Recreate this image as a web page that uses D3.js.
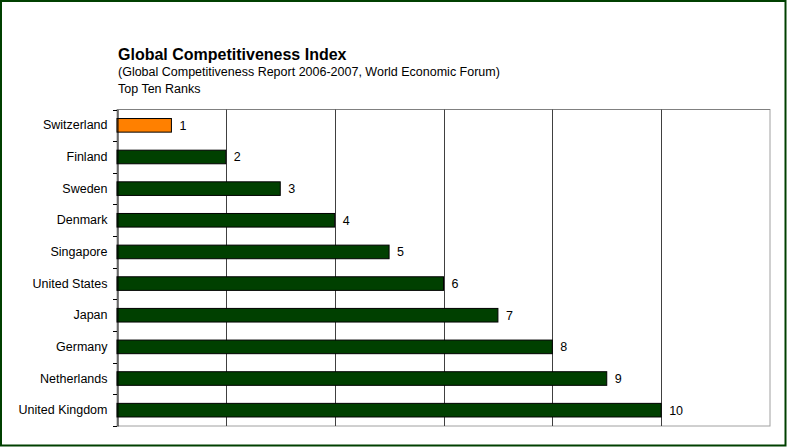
<!DOCTYPE html>
<html><head><meta charset="utf-8">
<script src="https://cdn.jsdelivr.net/npm/d3@7"></script>
<style>body{margin:0;background:#fff}svg{display:block;font-family:"Liberation Sans",Arial,sans-serif}</style>
</head><body>
<svg id="c" width="787" height="447"></svg>
<script>
const countries = ["Switzerland","Finland","Sweden","Denmark","Singapore","United States","Japan","Germany","Netherlands","United Kingdom"];
const ranks = [1,2,3,4,5,6,7,8,9,10];
const xTicks = [0,2,4,6,8,10,12];
const titleText = "Global Competitiveness Index";
const subtitleText = "(Global Competitiveness Report 2006-2007, World Economic Forum)";
const subtitle2Text = "Top Ten Ranks";

const svg = d3.select("#c");
const W = 787, H = 447;
const m = {left:117, right:770, top:109.5, bottom:426};
const fs = 12.5;

svg.append("rect").attr("x",1).attr("y",1).attr("width",W-2.5).attr("height",H-2.5)
  .attr("fill","#fff").attr("stroke","#004000").attr("stroke-width",2);

const x = d3.scaleLinear().domain([0,12]).range([m.left,m.right]);
const y = d3.scaleBand().domain(countries).range([m.top,m.bottom]).paddingInner(0.57).paddingOuter(0.285);
const yb = d3.scaleBand().domain(countries).range([m.top,m.bottom]);

// plot border
svg.append("rect").attr("x",m.left).attr("y",m.top).attr("width",m.right-m.left).attr("height",m.bottom-m.top)
  .attr("fill","none").attr("stroke","#a0a0a0").attr("stroke-width",1);
svg.append("line").attr("x1",m.left).attr("x2",m.right).attr("y1",m.top).attr("y2",m.top).attr("stroke","#808080");

// grid
svg.append("g").selectAll("line").data(xTicks.slice(1,-1)).join("line")
  .attr("x1",d=>Math.round(x(d))+0.5).attr("x2",d=>Math.round(x(d))+0.5)
  .attr("y1",m.top).attr("y2",m.bottom).attr("stroke","#404040").attr("stroke-width",1);

// bars
svg.append("g").selectAll("rect").data(countries).join("rect")
  .attr("x",x(0)).attr("y",d=>y(d)).attr("width",(d,i)=>x(ranks[i])-x(0)).attr("height",y.bandwidth())
  .attr("fill",(d,i)=>i===0?"#ff8000":"#004000").attr("stroke","#000").attr("stroke-width",1);

// value labels
svg.append("g").selectAll("text").data(countries).join("text")
  .attr("x",(d,i)=>x(ranks[i])+8).attr("y",d=>y(d)+y.bandwidth()/2).attr("dy","0.36em")
  .attr("font-size",fs).attr("fill","#000").text((d,i)=>ranks[i]);

// y axis
const ax = svg.append("g").attr("transform",`translate(${m.left+0.5},0)`)
  .call(d3.axisLeft(yb).tickSize(0).tickPadding(10));
ax.select(".domain").attr("stroke","#000");
ax.selectAll("text").attr("font-size",fs).attr("fill","#000").attr("font-family","Liberation Sans, Arial, sans-serif");
// category boundary ticks
svg.append("g").selectAll("line").data(d3.range(countries.length+1)).join("line")
  .attr("x1",m.left-4).attr("x2",m.left)
  .attr("y1",i=>Math.round(m.top+i*yb.step())+0.5).attr("y2",i=>Math.round(m.top+i*yb.step())+0.5)
  .attr("stroke","#000");

// titles
svg.append("text").attr("x",118).attr("y",60).attr("font-size",16).attr("font-weight","bold").text(titleText);
svg.append("text").attr("x",118).attr("y",76).attr("font-size",fs).text(subtitleText);
svg.append("text").attr("x",118).attr("y",93).attr("font-size",fs).text(subtitle2Text);
</script>
</body></html>
